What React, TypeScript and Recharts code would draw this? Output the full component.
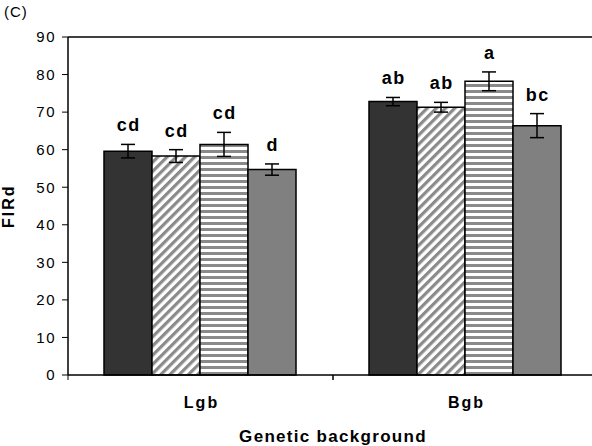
import { ComposedChart, Bar, XAxis, YAxis, ErrorBar, LabelList, ReferenceLine } from 'recharts';

// ── Data ────────────────────────────────────────────────────
const backgrounds = ['Lgb', 'Bgb'];
const seriesKeys = ['s1', 's2', 's3', 's4'];
const means = [
  [59.6, 58.3, 61.4, 54.7],
  [72.8, 71.3, 78.2, 66.4],
];
const errors = [
  [1.8, 1.7, 3.2, 1.5],
  [1.1, 1.3, 2.5, 3.2],
];
const letters = [
  ['cd', 'cd', 'cd', 'd'],
  ['ab', 'ab', 'a', 'bc'],
];
const yTicks = [0, 10, 20, 30, 40, 50, 60, 70, 80, 90];

const data = backgrounds.map((bg, i) => {
  const row: Record<string, string | number> = { bg };
  seriesKeys.forEach((k, j) => {
    row[k] = means[i][j];
    row[k + 'Err'] = errors[i][j];
    row[k + 'Lbl'] = letters[i][j];
  });
  return row;
});

const FONT = "'Liberation Sans', Arial, sans-serif";
const fills = ['#333333', 'url(#diag)', 'url(#horiz)', '#808080'];

const CHART_W = 610;
const PLOT_LEFT = 68;
const PLOT_RIGHT = 598;
const HALF_BAND = (PLOT_RIGHT - PLOT_LEFT) / backgrounds.length / 2;

function makeLetter(key: string) {
  return (props: any) => {
    const { x, y, width, height, index } = props;
    const row = data[index];
    const v = row[key] as number;
    const err = row[key + 'Err'] as number;
    const pxPerUnit = height / v;
    const top = y - err * pxPerUnit;
    return (
      <text x={x + width / 2 + 0.8} y={top - 13} textAnchor="middle" fontFamily={FONT} fontWeight="bold" fontSize={18} letterSpacing={1.6} fill="#000">
        {row[key + 'Lbl']}
      </text>
    );
  };
}

const CategoryTick = (props: any) => {
  const { x, y, payload } = props;
  return (
    <g>
      <line x1={x - HALF_BAND} y1={y - 8} x2={x - HALF_BAND} y2={y - 3} stroke="#000" strokeWidth={1} />
      <line x1={x + HALF_BAND} y1={y - 8} x2={x + HALF_BAND} y2={y - 3} stroke="#000" strokeWidth={1} />
      <text x={x + 1} y={y + 25} textAnchor="middle" fontFamily={FONT} fontWeight="bold" fontSize={16} letterSpacing={2} fill="#000">
        {payload.value}
      </text>
    </g>
  );
};

export default function App() {
  return (
    <div style={{ position: 'absolute', left: 0, top: 0, width: 592, height: 446, overflow: 'hidden', background: '#fff' }}>
      <div style={{ position: 'absolute', left: 4, top: 3, fontFamily: FONT, fontSize: 15, lineHeight: '18px', letterSpacing: 1 }}>(C)</div>
      <ComposedChart
        width={CHART_W}
        height={446}
        data={data}
        margin={{ top: 37, right: CHART_W - PLOT_RIGHT, bottom: 0, left: 0 }}
        barCategoryGap={36}
        barGap={0}
      >
        <defs>
          <pattern id="diag" patternUnits="userSpaceOnUse" width="6.5" height="6.5" patternTransform="rotate(45)">
            <rect width="6.5" height="6.5" fill="#ffffff" />
            <rect width="3.2" height="6.5" fill="#8a8a8a" />
          </pattern>
          <pattern id="horiz" patternUnits="userSpaceOnUse" width="6" height="6">
            <rect width="6" height="6" fill="#ffffff" />
            <rect y="0" width="6" height="3" fill="#8a8a8a" />
          </pattern>
        </defs>
        <XAxis
          dataKey="bg"
          height={71}
          axisLine={{ stroke: '#000', strokeWidth: 1.5 }}
          tickLine={false}
          tick={<CategoryTick />}
          interval={0}
          label={{ value: 'Genetic background', position: 'insideBottom', offset: 4, dx: 0, fontFamily: FONT, fontWeight: 'bold', fontSize: 17, letterSpacing: 1.3, fill: '#000' }}
        />
        <YAxis
          width={PLOT_LEFT}
          domain={[0, 90]}
          ticks={yTicks}
          interval={0}
          axisLine={{ stroke: '#000', strokeWidth: 1.5 }}
          tickLine={{ stroke: '#000' }}
          tickSize={6}
          tickMargin={6}
          tick={{ fontFamily: FONT, fontSize: 15, letterSpacing: 1.5, fill: '#000' }}
          label={{ value: 'FIRd', angle: -90, position: 'insideLeft', offset: 8, dy: 22, fontFamily: FONT, fontWeight: 'bold', fontSize: 16, letterSpacing: 2, fill: '#000' }}
        />
        <ReferenceLine y={90} stroke="#000" strokeWidth={1.5} />
        {seriesKeys.map((k, j) => (
          <Bar key={k} dataKey={k} fill={fills[j]} stroke="#000" strokeWidth={1.5} isAnimationActive={false}>
            <ErrorBar dataKey={k + 'Err'} width={7} stroke="#000" strokeWidth={1.5} direction="y" />
            <LabelList dataKey={k} content={makeLetter(k)} />
          </Bar>
        ))}
      </ComposedChart>
    </div>
  );
}
